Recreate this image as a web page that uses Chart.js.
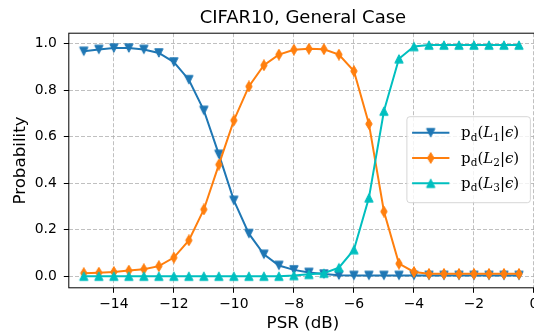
<!DOCTYPE html>
<html>
<head>
<meta charset="utf-8">
<script src="https://cdn.jsdelivr.net/npm/chart.js@4.4.1/dist/chart.umd.min.js"></script>
<style>
  html, body { margin: 0; padding: 0; overflow: hidden; background: #fff; }
  #wrap { width: 545px; height: 332px; }
</style>
</head>
<body>
<div id="wrap"><canvas id="myChart" width="545" height="332"></canvas></div>
<script>
// Данные графика
const psr = [-15, -14.5, -14, -13.5, -13, -12.5, -12, -11.5, -11, -10.5,
             -10, -9.5, -9, -8.5, -8, -7.5, -7, -6.5, -6, -5.5,
             -5, -4.5, -4, -3.5, -3, -2.5, -2, -1.5, -1, -0.5];
const pL1 = [0.967, 0.975, 0.981, 0.981, 0.975, 0.960, 0.921, 0.845, 0.713, 0.524,
             0.326, 0.183, 0.094, 0.046, 0.027, 0.016, 0.009, 0.004, 0.003, 0.003,
             0.003, 0.003, 0.003, 0.003, 0.003, 0.003, 0.003, 0.003, 0.003, 0.003];
const pL2 = [0.013, 0.015, 0.018, 0.024, 0.030, 0.043, 0.080, 0.154, 0.287, 0.480,
             0.670, 0.816, 0.907, 0.953, 0.974, 0.978, 0.976, 0.953, 0.882, 0.655,
             0.278, 0.054, 0.018, 0.010, 0.010, 0.010, 0.010, 0.010, 0.010, 0.010];
const pL3 = [0.000, 0.000, 0.000, 0.000, 0.000, 0.000, 0.000, 0.000, 0.000, 0.000,
             0.000, 0.000, 0.000, 0.000, 0.003, 0.008, 0.013, 0.037, 0.114, 0.337,
             0.710, 0.935, 0.988, 0.994, 0.994, 0.994, 0.994, 0.994, 0.994, 0.994];
const seriesLabels = ['p_d(L_1|ϵ)', 'p_d(L_2|ϵ)', 'p_d(L_3|ϵ)'];
const xTicks = [-14, -12, -10, -8, -6, -4, -2, 0];
const yTicks = [0, 0.2, 0.4, 0.6, 0.8, 1.0];

const BLUE = '#1f77b4', ORANGE = '#ff7f0e', CYAN = '#00bfbf';
const SANS = 'DejaVu Sans';

// Маркеры как в matplotlib (v, d, ^)
function makeMarker(kind, color) {
    const c = document.createElement('canvas');
    c.width = 12; c.height = 12;
    const g = c.getContext('2d');
    g.fillStyle = color; g.strokeStyle = color; g.lineWidth = 1; g.lineJoin = 'miter';
    g.beginPath();
    if (kind === 'v') { g.moveTo(1.8, 1.8); g.lineTo(10.2, 1.8); g.lineTo(6, 10.2); }
    if (kind === '^') { g.moveTo(6, 1.8); g.lineTo(10.2, 10.2); g.lineTo(1.8, 10.2); }
    if (kind === 'd') { g.moveTo(6, 0.6); g.lineTo(9.2, 6); g.lineTo(6, 11.4); g.lineTo(2.8, 6); }
    g.closePath(); g.fill(); g.stroke();
    return c;
}
const markers = [makeMarker('v', BLUE), makeMarker('d', ORANGE), makeMarker('^', CYAN)];

function toPoints(ys) { return psr.map((x, i) => ({x: x, y: ys[i]})); }

// Рамка вокруг области построения
const frame = {
    id: 'frame',
    afterDatasetsDraw(chart) {
        const {ctx, chartArea: a} = chart;
        ctx.save();
        ctx.strokeStyle = '#000'; ctx.lineWidth = 1;
        ctx.strokeRect(a.left, a.top, a.right - a.left, a.bottom - a.top);
        ctx.restore();
    }
};

// Легенда с формулами (нижние индексы, курсив)
const mathLegend = {
    id: 'mathLegend',
    afterDraw(chart) {
        const {ctx, chartArea: a} = chart;
        const w = 123.5, h = 86;
        const left = a.right - 6.6 - w;
        const top = (a.top + a.bottom) / 2 - h / 2 - 0.8;
        ctx.save();
        ctx.beginPath();
        ctx.roundRect(left, top, w, h, 3);
        ctx.fillStyle = 'rgba(255,255,255,0.8)';
        ctx.fill();
        ctx.strokeStyle = 'rgba(204,204,204,0.8)';
        ctx.lineWidth = 1;
        ctx.stroke();
        chart.data.datasets.forEach((ds, i) => {
            const y = top + 16 + i * 25.3;
            ctx.strokeStyle = ds.borderColor; ctx.lineWidth = 2;
            ctx.beginPath(); ctx.moveTo(left + 5.2, y); ctx.lineTo(left + 42.5, y); ctx.stroke();
            ctx.drawImage(markers[i], left + 23.8 - 6, y - 6);
            // текст
            let x = left + 54.2;
            const base = y + 4.6;
            const s = seriesLabels[i];
            ctx.fillStyle = '#000';
            ctx.textBaseline = 'alphabetic';
            for (let k = 0; k < s.length; k++) {
                let ch = s[k], sub = false;
                if (ch === '_') { sub = true; k++; ch = s[k]; }
                const italic = 'Lϵ'.includes(ch);
                const size = sub ? 10.5 : 15;
                ctx.font = (italic ? 'italic ' : '') + size + 'px "DejaVu Serif"';
                ctx.fillText(ch, x, base + (sub ? 3.2 : 0));
                x += ctx.measureText(ch).width;
            }
        });
        ctx.restore();
    }
};

const ctx = document.getElementById('myChart').getContext('2d');
const chart = new Chart(ctx, {
    type: 'line',
    data: {
        datasets: [
            { label: seriesLabels[0], data: toPoints(pL1), borderColor: BLUE, backgroundColor: BLUE,
              borderWidth: 2, pointStyle: markers[0], pointRadius: 6, order: 2 },
            { label: seriesLabels[1], data: toPoints(pL2), borderColor: ORANGE, backgroundColor: ORANGE,
              borderWidth: 2, pointStyle: markers[1], pointRadius: 6, order: 1 },
            { label: seriesLabels[2], data: toPoints(pL3), borderColor: CYAN, backgroundColor: CYAN,
              borderWidth: 2, pointStyle: markers[2], pointRadius: 6, order: 0 }
        ]
    },
    options: {
        responsive: false,
        devicePixelRatio: 1,
        animation: false,
        layout: { padding: { left: 0, right: 7.4, top: 0, bottom: 0 } },
        plugins: {
            legend: { display: false },
            tooltip: { enabled: false },
            title: {
                display: true,
                text: 'CIFAR10, General Case',
                fullSize: false,
                color: '#000',
                font: { family: SANS, size: 18, weight: 'normal', lineHeight: 1.2 },
                padding: { top: 7.7, bottom: 3.9 }
            }
        },
        scales: {
            x: {
                type: 'linear',
                min: -15.5,
                max: 0.1,
                afterBuildTicks: s => { s.ticks = xTicks.map(v => ({ value: v })); },
                afterFit: s => { s.height = 44.2; },
                ticks: {
                    color: '#000',
                    font: { family: SANS, size: 13.9 },
                    padding: 3,
                    maxRotation: 0,
                    autoSkip: false,
                    callback: v => String(v).replace('-', '\u2212')
                },
                grid: { color: '#b0b0b0', lineWidth: 0.8, tickColor: '#000', tickLength: 5, tickWidth: 1 },
                border: { display: false, dash: [4, 2] },
                title: {
                    display: true, text: 'PSR (dB)', color: '#000',
                    font: { family: SANS, size: 16.7, lineHeight: 1.05 },
                    padding: { top: 0, bottom: 0 }
                }
            },
            y: {
                min: -0.05,
                max: 1.045,
                afterBuildTicks: s => { s.ticks = yTicks.map(v => ({ value: v })); },
                afterFit: s => { s.width = 68.8; },
                ticks: {
                    color: '#000',
                    font: { family: SANS, size: 13.9 },
                    padding: 7,
                    callback: v => v.toFixed(1)
                },
                grid: { color: '#b0b0b0', lineWidth: 0.8, tickColor: '#000', tickLength: 5, tickWidth: 1 },
                border: { display: false, dash: [4, 2] },
                title: {
                    display: true, text: 'Probability', color: '#000',
                    font: { family: SANS, size: 16.7, lineHeight: 1.05 },
                    padding: { top: 12, bottom: 0 }
                }
            }
        }
    },
    plugins: [frame, mathLegend]
});
</script>
</body>
</html>
